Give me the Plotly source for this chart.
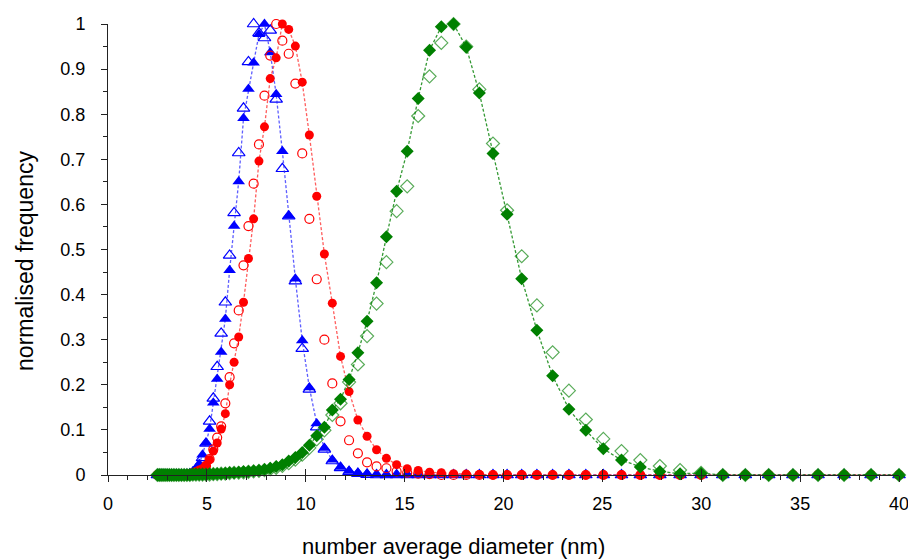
import plotly.graph_objects as go

# number average diameter (nm) bins
diameter = [2.500, 2.592, 2.687, 2.785, 2.887, 2.993, 3.103, 3.217, 3.335, 3.457,
            3.584, 3.715, 3.851, 3.992, 4.139, 4.291, 4.448, 4.611, 4.780, 4.955,
            5.137, 5.325, 5.521, 5.723, 5.933, 6.150, 6.376, 6.610, 6.852, 7.103,
            7.364, 7.634, 7.913, 8.204, 8.504, 8.816, 9.139, 9.474, 9.822, 10.182,
            10.555, 10.942, 11.343, 11.759, 12.190, 12.637, 13.101, 13.581, 14.079, 14.595,
            15.130, 15.685, 16.260, 16.856, 17.474, 18.115, 18.779, 19.468, 20.181, 20.921,
            21.689, 22.484, 23.308, 24.163, 25.049, 25.967, 26.919, 27.906, 28.929, 29.990,
            31.089, 32.229, 33.411, 34.636, 35.906, 37.222, 38.587, 40.000]

blue_filled = [0, 0, 0, 0, 0, 0, 0, 0, 0, 0,
               0, 0, 0, 0.002, 0.004, 0.008, 0.014, 0.023, 0.045, 0.071,
               0.102, 0.160, 0.213, 0.273, 0.346, 0.454, 0.552, 0.651, 0.791, 0.856,
               0.914, 0.977, 1.000, 0.937, 0.844, 0.718, 0.575, 0.435, 0.298, 0.194,
               0.114, 0.060, 0.034, 0.018, 0.009, 0.005, 0.003, 0.001, 0, 0,
               0, 0, 0, 0, 0, 0, 0, 0, 0, 0,
               0, 0, 0, 0, 0, 0, 0, 0, 0, 0,
               0, 0, 0, 0, 0, 0, 0, 0]

blue_open = [0, 0, 0, 0, 0, 0, 0, 0, 0, 0,
             0, 0, 0, 0, 0, 0.005, 0.012, 0.022, 0.038, 0.070,
             0.119, 0.170, 0.240, 0.314, 0.383, 0.487, 0.581, 0.714, 0.813, 0.916,
             1.000, 0.980, 0.969, 0.986, 0.833, 0.679, 0.574, 0.430, 0.280, 0.190,
             0.106, 0.057, 0.031, 0.016, 0.007, 0.003, 0.001, 0, 0, 0,
             0, 0, 0, 0, 0, 0, 0, 0, 0, 0,
             0, 0, 0, 0, 0, 0, 0, 0, 0, 0,
             0, 0, 0, 0, 0, 0, 0, 0]

red_filled = [0, 0, 0, 0, 0, 0, 0, 0, 0, 0,
              0, 0, 0, 0.002, 0.003, 0.005, 0.008, 0.011, 0.014, 0.021,
              0.034, 0.053, 0.071, 0.102, 0.136, 0.200, 0.250, 0.306, 0.383, 0.480,
              0.568, 0.696, 0.772, 0.879, 0.925, 1.000, 0.988, 0.951, 0.871, 0.754,
              0.618, 0.490, 0.381, 0.263, 0.185, 0.122, 0.086, 0.056, 0.037, 0.023,
              0.014, 0.010, 0.006, 0.005, 0.003, 0.002, 0.001, 0, 0, 0,
              0, 0, 0, 0, 0, 0, 0, 0, 0, 0,
              0, 0, 0, 0, 0, 0, 0, 0]

red_open = [0, 0, 0, 0, 0, 0, 0, 0, 0, 0,
            0, 0, 0, 0, 0, 0, 0.003, 0.006, 0.012, 0.020,
            0.035, 0.057, 0.083, 0.108, 0.159, 0.217, 0.292, 0.365, 0.465, 0.552,
            0.646, 0.733, 0.841, 0.930, 1.000, 0.963, 0.934, 0.868, 0.713, 0.568,
            0.434, 0.300, 0.203, 0.119, 0.077, 0.048, 0.028, 0.019, 0.015, 0.008,
            0.005, 0.003, 0.002, 0, 0, 0, 0, 0, 0, 0,
            0, 0, 0, 0, 0, 0, 0, 0, 0, 0,
            0, 0, 0, 0, 0, 0, 0, 0]

green_filled = [0, 0, 0, 0, 0, 0, 0, 0, 0, 0,
                0, 0, 0, 0, 0, 0.001, 0.001, 0.001, 0.001, 0.001,
                0.002, 0.002, 0.003, 0.003, 0.004, 0.005, 0.005, 0.006, 0.007, 0.008,
                0.009, 0.010, 0.012, 0.015, 0.019, 0.023, 0.031, 0.039, 0.050, 0.066,
                0.087, 0.106, 0.144, 0.168, 0.212, 0.271, 0.341, 0.426, 0.528, 0.629,
                0.718, 0.835, 0.942, 0.994, 1.000, 0.949, 0.847, 0.713, 0.578, 0.435,
                0.321, 0.220, 0.146, 0.099, 0.058, 0.033, 0.018, 0.008, 0.003, 0.004,
                0, 0, 0, 0, 0, 0, 0, 0]

green_open = [0, 0, 0, 0, 0, 0, 0, 0, 0, 0,
              0, 0, 0, 0, 0, 0.001, 0.001, 0.001, 0.001, 0.001,
              0.001, 0.002, 0.002, 0.003, 0.003, 0.004, 0.005, 0.005, 0.006, 0.007,
              0.008, 0.009, 0.011, 0.013, 0.016, 0.020, 0.026, 0.034, 0.045, 0.060,
              0.079, 0.099, 0.133, 0.159, 0.206, 0.245, 0.308, 0.380, 0.472, 0.585,
              0.640, 0.796, 0.884, 0.958, 1.000, 0.950, 0.855, 0.735, 0.587, 0.485,
              0.376, 0.272, 0.187, 0.123, 0.080, 0.053, 0.033, 0.020, 0.011, 0.005,
              0, 0, 0, 0, 0, 0, 0, 0]

x_ticks = [0, 5, 10, 15, 20, 25, 30, 35, 40]
y_ticks = [0, 0.1, 0.2, 0.3, 0.4, 0.5, 0.6, 0.7, 0.8, 0.9, 1]
y_tick_text = ["0", "0.1", "0.2", "0.3", "0.4", "0.5", "0.6", "0.7", "0.8", "0.9", "1"]

FONT = "Liberation Sans, Arial, sans-serif"

fig = go.Figure()

series = [
    (blue_open, blue_filled, "triangle-up", 11, "#0000ff", "#0000ff", "rgba(40,40,255,0.75)"),
    (red_open, red_filled, "circle", 9, "#ff0000", "#ff0000", "rgba(255,40,40,0.75)"),
    (green_open, green_filled, "diamond", 10, "#008000", "rgba(0,128,0,0.65)", "rgba(0,128,0,0.8)"),
]

for yo, yf, sym, size, col, opencol, linecol in series:
    fig.add_trace(go.Scatter(
        x=diameter, y=yo, mode="markers", cliponaxis=False, showlegend=False,
        marker=dict(symbol=sym + "-open", size=size, color=opencol, line=dict(width=1.2, color=opencol)),
    ))
    fig.add_trace(go.Scatter(
        x=diameter, y=yf, mode="lines+markers", cliponaxis=False, showlegend=False,
        line=dict(color=linecol, width=1.3, dash="3px,2px"),
        marker=dict(symbol=sym, size=size, color=col, line=dict(width=0)),
    ))

# invisible trace for the overlaid axis (inside tick marks)
fig.add_trace(go.Scatter(x=[0, 40], y=[0, 0], xaxis="x2", mode="lines",
                         line=dict(width=0), showlegend=False, hoverinfo="skip"))

fig.update_layout(
    width=908, height=559,
    margin=dict(l=108, r=9, t=24, b=84, autoexpand=False),
    paper_bgcolor="white", plot_bgcolor="white",
    font=dict(family=FONT, color="black"),
    xaxis=dict(range=[0, 40], tickvals=x_ticks, ticks="outside", ticklen=6, tickcolor="#222",
               showline=True, linecolor="#222", linewidth=1, showgrid=False, zeroline=False,
               tickfont=dict(size=18, family=FONT), ticklabelstandoff=6,
               ticklabeloverflow="allow", automargin=False,
               minor=dict(dtick=1, ticklen=4, ticks="outside", tickcolor="#222")),
    xaxis2=dict(range=[0, 40], overlaying="x", anchor="y", tickvals=x_ticks, ticks="inside",
                ticklen=6, tickcolor="#222", showticklabels=False, showline=False,
                showgrid=False, zeroline=False, automargin=False),
    yaxis=dict(range=[0, 1], tickvals=y_ticks, ticktext=y_tick_text, ticks="outside", ticklen=6,
               tickcolor="#222", showline=True, linecolor="#222", linewidth=1, showgrid=False,
               zeroline=False, tickfont=dict(size=18, family=FONT), ticklabelstandoff=12,
               ticklabeloverflow="allow", automargin=False,
               minor=dict(dtick=0.05, ticklen=4, ticks="outside", tickcolor="#222")),
    annotations=[
        dict(text="number average diameter (nm)", xref="paper", yref="paper",
             x=0.4374, y=-0.1585, xanchor="center", yanchor="middle", showarrow=False,
             font=dict(size=22, family=FONT)),
        dict(text="normalised frequency", xref="paper", yref="paper",
             x=-0.105, y=0.4745, xanchor="center", yanchor="middle", showarrow=False,
             textangle=-90, font=dict(size=23, family=FONT)),
    ],
)

fig.write_html("out.html", config={"displayModeBar": False},
               post_script="document.body.style.margin='0';")
